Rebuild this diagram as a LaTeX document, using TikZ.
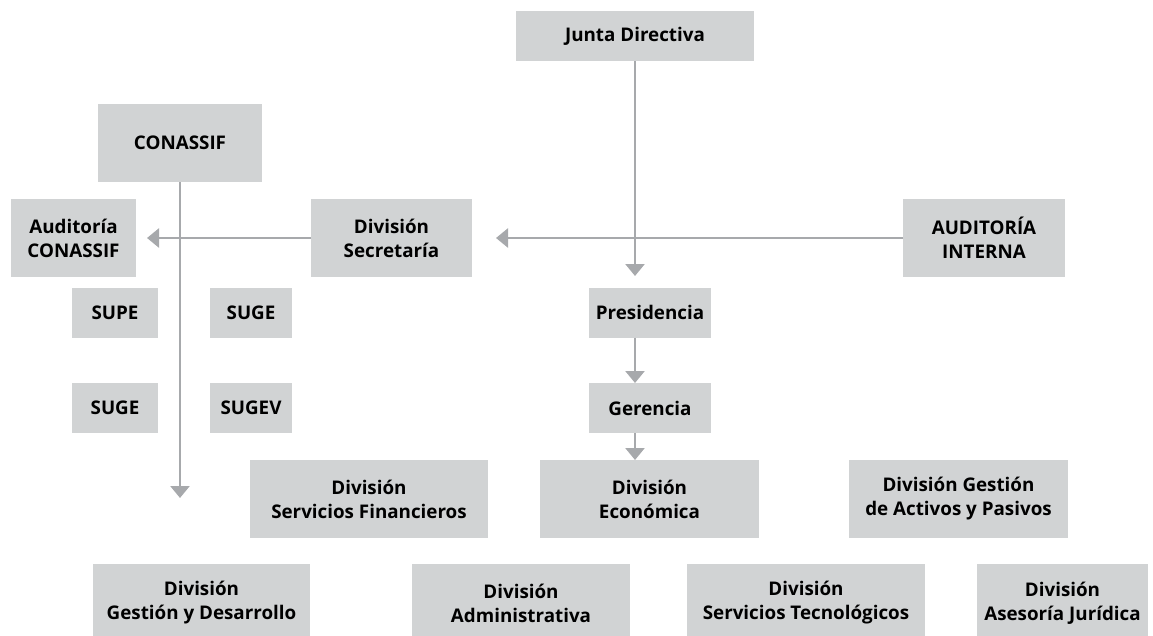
\documentclass[tikz,border=0pt]{standalone}
\usepackage{fontspec}
\setmainfont{Open Sans}
\usepackage{xcolor}
\usetikzlibrary{arrows.meta}
\definecolor{boxgray}{HTML}{D1D3D4}
\definecolor{linegray}{HTML}{A7A9AC}

\begin{document}
\begin{tikzpicture}[x=1pt, y=-1pt,
    box/.style = {fill=boxgray, inner sep=0pt, outer sep=0pt, align=center,
                font=\fontsize{18.8}{24}\selectfont\bfseries,
                minimum width=#1},
    box/.default = 160pt,
    arr/.style = {draw=linegray, line width=2.6pt,
                -{Triangle[width=19pt,length=12pt]}}
                    ]
    \def\hb{78pt}   % tall boxes
    \def\hs{50pt}   % small boxes
    \clip (0,0) rectangle (1153,635);
    \node[box=238, minimum height=\hs] at (635,36) (junta) {Junta Directiva};
    \node[box=164, minimum height=\hb] at (180,143) (conassif) {CONASSIF};
    \node[box=125, minimum height=\hb] at (73.5,238) (audcon) {Auditoría\\CONASSIF};
    \node[box=161, minimum height=\hb] at (391.5,238) (secret) {División\\Secretaría};
    \node[box=162, minimum height=\hb] at (984,238) (audint) {AUDITORÍA\\INTERNA};
    \node[box=86, minimum height=\hs] at (115,313) (supe) {SUPE};
    \node[box=82, minimum height=\hs] at (251,313) (suge) {SUGE};
    \node[box=86, minimum height=\hs] at (115,408) (sugeb) {SUGE};
    \node[box=82, minimum height=\hs] at (251,408) (sugev) {SUGEV};
    \node[box=122, minimum height=\hs] at (650,312.5) (pres) {Presidencia};
    \node[box=122, minimum height=\hs] at (650,408) (geren) {Gerencia};
    \node[box=238, minimum height=\hb] at (369,499) (divsf) {División\\Servicios Financieros};
    \node[box=219, minimum height=\hb] at (649.5,499) (diveco) {División\\Económica};
    \node[box=219, minimum height=\hb] at (958.5,499) (divgap) {División Gestión\\de Activos y Pasivos};
    \node[box=217, minimum height=\hb] at (201.5,603) (divgd) {División\\Gestión y Desarrollo};
    \node[box=218, minimum height=\hb] at (521,603) (divadm) {División\\Administrativa};
    \node[box=238, minimum height=\hb] at (806,603) (divst) {División\\Servicios Tecnológicos};
    \node[box=171, minimum height=\hb] at (1062.5,603) (divaj) {División\\Asesoría Jurídica};
    \coordinate (spine) at (635,0);
    \coordinate (presin) at (635,276);
    \coordinate (conend) at (180,498);
    \draw[arr] (junta.south -| spine) -- (presin);
    \draw[arr] (pres.south -| spine) -- (geren.north -| spine);
    \draw[arr] (geren.south -| spine) -- (diveco.north -| spine);
    \draw[arr] (conassif.south) -- (conend);
    \draw[arr, shorten >=24pt] (audint.west) -- (secret.east);
    \draw[arr, shorten >=11pt] (secret.west) -- (audcon.east);
\end{tikzpicture}
\end{document}
